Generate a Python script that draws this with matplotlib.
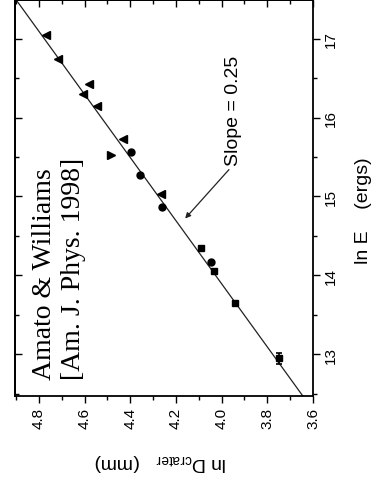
import numpy as np
import matplotlib
matplotlib.use("Agg")
import matplotlib.pyplot as plt
from matplotlib.ticker import MultipleLocator

matplotlib.rc('font', family='Liberation Sans', size=11)

# crater diameter vs impact energy (ln scales), by data set
tri_up_lnE = [17.05, 16.74, 16.42, 16.30, 16.14, 15.73, 15.03]
tri_up_lnD = [4.771, 4.715, 4.580, 4.609, 4.545, 4.431, 4.267]
tri_dn_lnE = [15.53]
tri_dn_lnD = [4.486]
circ_lnE = [15.56, 15.27, 14.87, 14.17]
circ_lnD = [4.397, 4.358, 4.260, 4.047]
sq_lnE = [14.34, 14.05, 13.65, 12.95]
sq_lnD = [4.092, 4.032, 3.940, 3.747]
sq_lnE_err = [0, 0, 0, 0.07]

slope = 0.25
intercept = 0.527

fig = plt.figure(figsize=(3.73, 4.81), dpi=100)
ax = fig.add_axes([15/373, 84/481, 298/373, 396/481])

# figure is drawn turned on its side: lnD runs right-to-left, lnE bottom-to-top
E_fit = np.array([12.0, 18.0])
ax.plot(slope*E_fit + intercept, E_fit, color='#222222', lw=0.9, zorder=2)

ax.plot(tri_up_lnD, tri_up_lnE, '<', color='black', ms=6, ls='none', zorder=3)
ax.plot(tri_dn_lnD, tri_dn_lnE, '>', color='black', ms=6, ls='none', zorder=3)
ax.plot(circ_lnD, circ_lnE, 'o', color='black', ms=5, ls='none', zorder=3)
ax.errorbar(sq_lnD, sq_lnE, yerr=sq_lnE_err, fmt='s', color='black', ms=5,
            elinewidth=1.2, capsize=2.5, capthick=1.2, zorder=3)

ax.set_xlim(4.905, 3.6)
ax.set_ylim(12.47, 17.49)

ax.xaxis.set_major_locator(MultipleLocator(0.2))
ax.xaxis.set_minor_locator(MultipleLocator(0.1))
ax.yaxis.set_major_locator(MultipleLocator(1))
ax.yaxis.set_minor_locator(MultipleLocator(0.5))
ax.xaxis.set_major_formatter(matplotlib.ticker.FormatStrFormatter('%.1f'))

ax.yaxis.tick_right()
ax.yaxis.set_label_position('right')
ax.tick_params(which='major', direction='out', length=5, width=1, pad=3)
ax.tick_params(which='minor', direction='out', length=3, width=1)
ax.tick_params(axis='x', labelrotation=90)
ax.tick_params(axis='y', labelrotation=90)
for lab in ax.get_yticklabels():
    lab.set_va('center')

# inward ticks on the other two sides
top = ax.secondary_xaxis('top')
top.xaxis.set_major_locator(MultipleLocator(0.2))
top.xaxis.set_minor_locator(MultipleLocator(0.1))
top.tick_params(which='major', direction='in', length=5, width=1, labeltop=False)
top.tick_params(which='minor', direction='in', length=3, width=1)
left = ax.secondary_yaxis('left')
left.yaxis.set_major_locator(MultipleLocator(1))
left.yaxis.set_minor_locator(MultipleLocator(0.5))
left.tick_params(which='major', direction='in', length=5, width=1, labelleft=False)
left.tick_params(which='minor', direction='in', length=3, width=1)

for a in (ax, top, left):
    for sp in a.spines.values():
        sp.set_linewidth(1.3)

ax.set_xlabel(r'ln D$_\mathregular{crater}$   (mm)', fontsize=14, rotation=180,
              ha='center', va='center')
ax.xaxis.set_label_coords(0.487, -0.165)
ax.set_ylabel('ln E    (ergs)', fontsize=14, rotation=90, ha='center', va='center')
ax.yaxis.set_label_coords(1.17, 0.47)

ax.annotate('', xy=(4.160, 14.72), xytext=(3.968, 15.34),
            arrowprops=dict(arrowstyle='-|>', color='#222222', lw=0.9,
                            mutation_scale=8, shrinkA=0, shrinkB=0))
ax.text(3.950, 16.10, 'Slope = 0.25', fontsize=14, rotation=90,
        ha='center', va='center')

ax.text(4.712, 12.684, 'Amato & Williams\n[Am. J. Phys. 1998]',
        family='Liberation Serif', fontsize=20, rotation=90,
        ha='center', va='bottom', multialignment='left', linespacing=1.2)

fig.savefig('out.png', dpi=100)
